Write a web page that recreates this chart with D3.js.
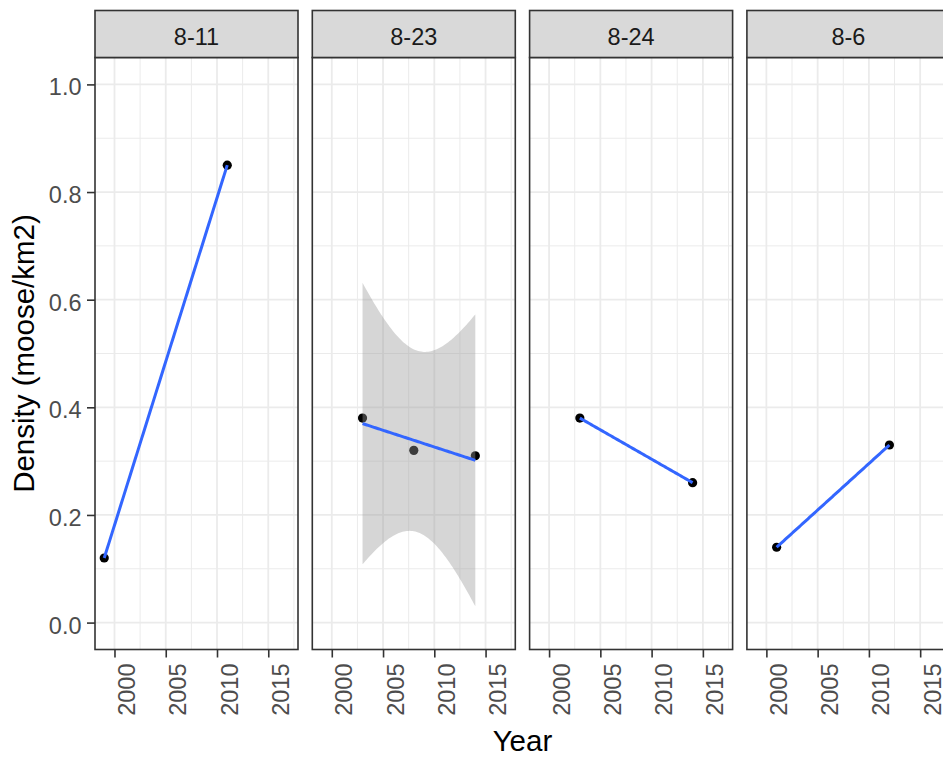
<!DOCTYPE html>
<html>
<head>
<meta charset="utf-8">
<script src="https://cdn.jsdelivr.net/npm/d3@7"></script>
<style>
  html, body { margin: 0; padding: 0; background: #fff; }
  svg { display: block; }
  text { font-family: "Liberation Sans", Arial, sans-serif; }
</style>
</head>
<body>
<svg id="chart" width="943" height="758"></svg>
<script>
// Moose density survey results per site
const sites = ["8-11", "8-23", "8-24", "8-6"];
const site = ["8-11", "8-11", "8-23", "8-23", "8-23", "8-24", "8-24", "8-6", "8-6"];
const year = [1999, 2011, 2003, 2008, 2014, 2003, 2014, 2001, 2012];
const density = [0.12, 0.85, 0.38, 0.32, 0.31, 0.38, 0.26, 0.14, 0.33];

// Axis settings
const yearLimits = [1999, 2017];
const densityLimits = [0, 1];
const yearTicks = [2000, 2005, 2010, 2015];
const yearMinor = [2002.5, 2007.5, 2012.5, 2017.5];
const densityTicks = [0, 0.2, 0.4, 0.6, 0.8, 1.0];
const densityMinor = [0.1, 0.3, 0.5, 0.7, 0.9];

// 97.5% Student t quantiles by residual degrees of freedom (95% band)
const tCrit = { 1: 12.7062, 2: 4.3027, 3: 3.1824, 4: 2.7764, 5: 2.5706 };

const svg = d3.select("#chart");
const W = 943, H = 758;

const panelLeft = 95, panelW = 203, panelGap = 14.3;
const stripTop = 10.5, panelTop = 57.5, panelBottom = 649.5;
const tickLen = 8;
const font = '"Liberation Sans", Arial, sans-serif';

const expand = (lim, f) => { const d = (lim[1] - lim[0]) * f; return [lim[0] - d, lim[1] + d]; };

const y = d3.scaleLinear().domain(expand(densityLimits, 0.05)).range([panelBottom, panelTop]);

const rows = year.map((yr, i) => ({ site: site[i], year: yr, density: density[i] }));

// Ordinary least squares fit with a confidence band, evaluated along the data range
function lmFit(pts, n = 80) {
  const k = pts.length;
  const mx = d3.mean(pts, d => d.year), my = d3.mean(pts, d => d.density);
  const sxx = d3.sum(pts, d => (d.year - mx) ** 2);
  const sxy = d3.sum(pts, d => (d.year - mx) * (d.density - my));
  const b = sxy / sxx, a = my - b * mx;
  const df = k - 2;
  const sse = d3.sum(pts, d => (d.density - (a + b * d.year)) ** 2);
  const s = df > 0 ? Math.sqrt(sse / df) : NaN;
  const [x0, x1] = d3.extent(pts, d => d.year);
  return d3.range(n).map(i => {
    const xv = x0 + (x1 - x0) * i / (n - 1);
    const fit = a + b * xv;
    const se = s * Math.sqrt(1 / k + (xv - mx) ** 2 / sxx);
    const hw = df > 0 ? tCrit[df] * se : NaN;
    return { year: xv, fit, lo: fit - hw, hi: fit + hw };
  });
}

const root = svg.append("g");

sites.forEach((name, p) => {
  const left = panelLeft + p * (panelW + panelGap);
  const x = d3.scaleLinear().domain(expand(yearLimits, 0.05)).range([left, left + panelW]);
  const g = root.append("g");

  // panel background
  g.append("rect").attr("x", left).attr("y", panelTop)
    .attr("width", panelW).attr("height", panelBottom - panelTop).attr("fill", "#fff");

  // minor grid
  g.selectAll(".vminor").data(yearMinor).join("line")
    .attr("x1", d => x(d)).attr("x2", d => x(d)).attr("y1", panelTop).attr("y2", panelBottom)
    .attr("stroke", "#ebebeb").attr("stroke-width", 1);
  g.selectAll(".hminor").data(densityMinor).join("line")
    .attr("x1", left).attr("x2", left + panelW).attr("y1", d => y(d)).attr("y2", d => y(d))
    .attr("stroke", "#ebebeb").attr("stroke-width", 1);
  // major grid
  g.selectAll(".vmajor").data(yearTicks).join("line")
    .attr("x1", d => x(d)).attr("x2", d => x(d)).attr("y1", panelTop).attr("y2", panelBottom)
    .attr("stroke", "#ebebeb").attr("stroke-width", 1.8);
  g.selectAll(".hmajor").data(densityTicks).join("line")
    .attr("x1", left).attr("x2", left + panelW).attr("y1", d => y(d)).attr("y2", d => y(d))
    .attr("stroke", "#ebebeb").attr("stroke-width", 1.8);

  const pts = rows.filter(d => d.site === name);

  // observations
  g.selectAll(".pt").data(pts).join("circle")
    .attr("cx", d => x(d.year)).attr("cy", d => y(d.density))
    .attr("r", 4.6).attr("fill", "#000");

  // linear trend with confidence ribbon
  const fit = lmFit(pts);
  if (fit.every(d => isFinite(d.lo))) {
    g.append("path").datum(fit)
      .attr("d", d3.area().x(d => x(d.year)).y0(d => y(d.lo)).y1(d => y(d.hi)))
      .attr("fill", "#999999").attr("fill-opacity", 0.4);
  }
  g.append("path").datum(fit)
    .attr("d", d3.line().x(d => x(d.year)).y(d => y(d.fit)))
    .attr("fill", "none").attr("stroke", "#3366ff").attr("stroke-width", 3);

  // panel border
  g.append("rect").attr("x", left).attr("y", panelTop)
    .attr("width", panelW).attr("height", panelBottom - panelTop)
    .attr("fill", "none").attr("stroke", "#333333").attr("stroke-width", 1.6);

  // strip
  g.append("rect").attr("x", left).attr("y", stripTop)
    .attr("width", panelW).attr("height", panelTop - stripTop)
    .attr("fill", "#d9d9d9").attr("stroke", "#333333").attr("stroke-width", 1.6);
  g.append("text").attr("x", left + panelW / 2).attr("y", (stripTop + panelTop) / 2)
    .attr("dy", "0.45em").attr("text-anchor", "middle")
    .attr("font-size", 23.5).attr("fill", "#1a1a1a").text(name);

  // bottom axis
  const xa = g.append("g").attr("transform", `translate(0,${panelBottom})`)
    .call(d3.axisBottom(x).tickValues(yearTicks).tickFormat(d3.format("d"))
      .tickSize(tickLen).tickPadding(0));
  xa.select(".domain").remove();
  xa.selectAll(".tick line").attr("stroke", "#333333").attr("stroke-width", 1.6);
  xa.selectAll(".tick text")
    .attr("font-family", font).attr("font-size", 23.5).attr("fill", "#4d4d4d")
    .attr("text-anchor", "end").attr("dy", null).attr("y", null)
    .attr("transform", "translate(20,14) rotate(-90)");
});

// left axis on the first panel
const ya = root.append("g").attr("transform", `translate(${panelLeft},0)`)
  .call(d3.axisLeft(y).tickValues(densityTicks).tickFormat(d3.format(".1f"))
    .tickSize(tickLen).tickPadding(5.5));
ya.select(".domain").remove();
ya.selectAll(".tick line").attr("stroke", "#333333").attr("stroke-width", 1.6);
ya.selectAll(".tick text")
  .attr("font-family", font).attr("font-size", 23.5).attr("fill", "#4d4d4d")
  .attr("dy", "0.45em");

// axis titles
const plotCenterX = panelLeft + (sites.length * panelW + (sites.length - 1) * panelGap) / 2;
svg.append("text").attr("x", plotCenterX).attr("y", 751)
  .attr("text-anchor", "middle").attr("font-size", 29.5).attr("fill", "#000").text("Year");
svg.append("text")
  .attr("transform", `translate(34,${(panelTop + panelBottom) / 2}) rotate(-90)`)
  .attr("text-anchor", "middle").attr("font-size", 29.5).attr("fill", "#000")
  .text("Density (moose/km2)");
</script>
</body>
</html>
